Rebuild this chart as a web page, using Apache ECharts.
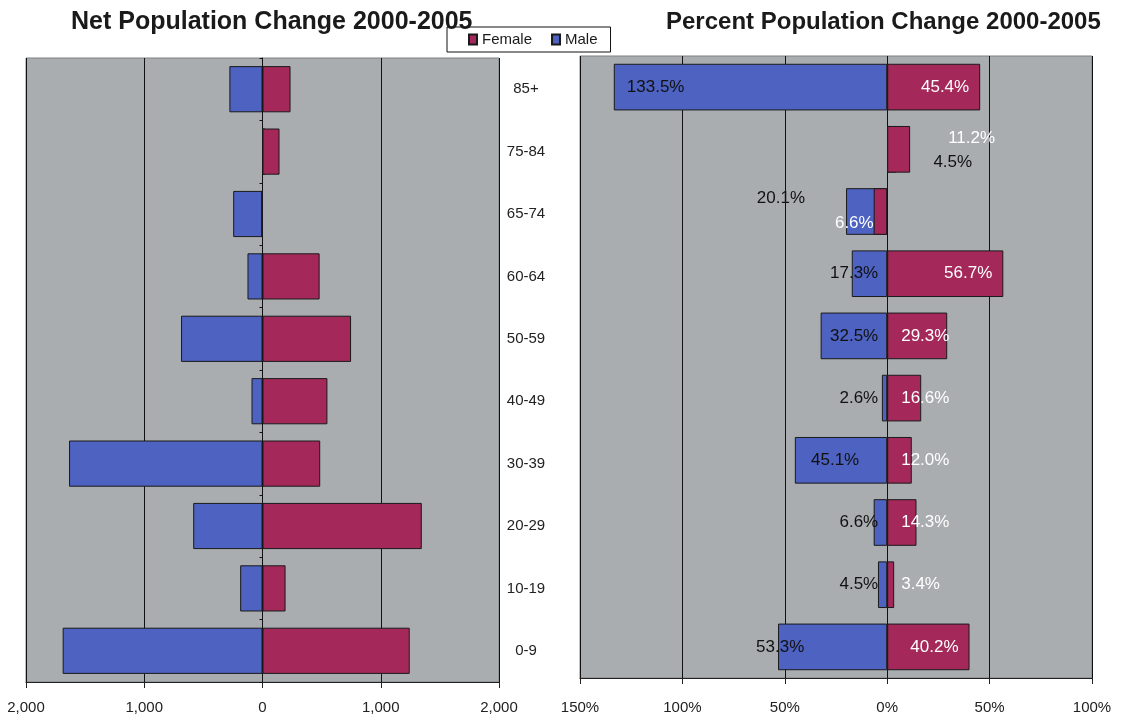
<!DOCTYPE html>
<html>
<head>
<meta charset="utf-8">
<script src="https://cdn.jsdelivr.net/npm/echarts@6/dist/echarts.min.js"></script>
<style>
html,body{margin:0;padding:0;background:#fff;}
#chart{width:1124px;height:724px;}
</style>
</head>
<body>
<div id="chart"></div>
<script>
// Age groups, bottom to top
var categories = ['0-9', '10-19', '20-29', '30-39', '40-49', '50-59', '60-64', '65-74', '75-84', '85+'];
// Net population change 2000-2005 (persons)
var maleNet   = [1690, 189, 586, 1636, 93, 689, 127, 248, -25, 280];
var femaleNet = [1245, 195, 1347, 488, 549, 749, 483, -10, 144, 237];
// Percent population change 2000-2005
var malePct   = [53.3, 4.5, 6.6, 45.1, 2.6, 32.5, 17.3, 20.1, -4.5, 133.5];
var femalePct = [40.2, 3.4, 14.3, 12.0, 16.6, 29.3, 56.7, -6.6, 11.2, 45.4];
// Axis ticks
var netTicks = { min: -2000, max: 2000, interval: 1000 };
var pctTicks = { min: -150, max: 100, interval: 50 };

var FONT = 'Liberation Sans, Arial, sans-serif';
var RED = '#a4295a';
var BLUE = '#4d62c1';
var PLOT_BG = '#a9adb0';

function fmtNum(v) {
  return Math.abs(v).toString().replace(/\B(?=(\d{3})+(?!\d))/g, ',');
}

// label placement tweaks (style only)
var maleLabelStyle = {
  '85+':   { position: 'insideLeft', distance: 13 },
  '75-84': { position: 'right', distance: 37, offset: [0, 13] },
  '65-74': { position: 'left', distance: 41, offset: [0, -13] },
  '30-39': { position: 'insideRight', distance: 28 },
  '0-9':   { position: 'insideLeft', distance: 0, offset: [-22, 0] }
};
var femaleLabelStyle = {
  '85+':   { position: 'insideRight', distance: 11 },
  '75-84': { position: 'right', distance: 38, offset: [0, -11] },
  '65-74': { position: 'left', distance: 0, offset: [0, 12] },
  '60-64': { position: 'insideRight', distance: 11 },
  '0-9':   { position: 'insideRight', distance: 11 }
};

function pctData(vals, sign, styles) {
  return vals.map(function (v, i) {
    var item = { value: sign * v, raw: v };
    var s = styles[categories[i]];
    if (s) item.label = s;
    return item;
  });
}

var barItem = function (c) { return { color: c, borderColor: '#1a1a1a', borderWidth: 1 }; };

var chart = echarts.init(document.getElementById('chart'), null, { renderer: 'canvas' });

var option = {
  animation: false,
  backgroundColor: '#ffffff',
  textStyle: { fontFamily: FONT },
  title: [
    { text: 'Net Population Change 2000-2005', left: 66, top: 5,
      textStyle: { fontFamily: FONT, fontSize: 25, fontWeight: 'bold', color: '#1a1a1a' } },
    { text: 'Percent Population Change 2000-2005', left: 661, top: 5,
      textStyle: { fontFamily: FONT, fontSize: 24, fontWeight: 'bold', color: '#1a1a1a' } }
  ],
  legend: {
    data: ['Female', 'Male'],
    left: 447, top: 27,
    padding: [5, 13, 5, 21],
    icon: 'rect',
    itemWidth: 8, itemHeight: 10, itemGap: 19,
    backgroundColor: '#ffffff',
    borderColor: '#111', borderWidth: 1,
    textStyle: { fontFamily: FONT, fontSize: 15, color: '#1a1a1a' }
  },
  grid: [
    { left: 26, top: 58, width: 473, height: 624, show: true,
      backgroundColor: PLOT_BG, borderColor: '#7d8184', borderWidth: 1 },
    { left: 580, top: 56, width: 512, height: 622, show: true,
      backgroundColor: PLOT_BG, borderColor: '#7d8184', borderWidth: 1 }
  ],
  xAxis: [
    { type: 'value', gridIndex: 0, min: netTicks.min, max: netTicks.max, interval: netTicks.interval,
      axisLine: { show: true, onZero: false, lineStyle: { color: '#222', width: 1 } },
      axisTick: { show: true, length: 6, lineStyle: { color: '#222' } },
      splitLine: { show: true, lineStyle: { color: '#111', width: 1 } },
      axisLabel: { formatter: fmtNum, fontSize: 15, color: '#222', margin: 18, fontFamily: FONT } },
    { type: 'value', gridIndex: 1, min: pctTicks.min, max: pctTicks.max, interval: pctTicks.interval,
      axisLine: { show: true, onZero: false, lineStyle: { color: '#222', width: 1 } },
      axisTick: { show: true, length: 6, lineStyle: { color: '#222' } },
      splitLine: { show: true, lineStyle: { color: '#111', width: 1 } },
      axisLabel: { formatter: function (v) { return Math.abs(v) + '%'; }, fontSize: 15, color: '#222', margin: 22, fontFamily: FONT } }
  ],
  yAxis: [
    { type: 'category', gridIndex: 0, data: categories, position: 'left',
      axisLine: { show: true, onZero: true, lineStyle: { color: '#111' } },
      axisTick: { show: true, length: 3, lineStyle: { color: '#111' } },
      axisLabel: { show: false } },
    { type: 'category', gridIndex: 0, data: categories, position: 'right',
      axisLine: { show: false, onZero: false }, axisTick: { show: false },
      axisLabel: { show: true, align: 'center', margin: 27, fontSize: 15, color: '#222', fontFamily: FONT } },
    { type: 'category', gridIndex: 1, data: categories,
      axisLine: { show: false }, axisTick: { show: false }, axisLabel: { show: false } }
  ],
  series: [
    { name: 'Male', type: 'bar', xAxisIndex: 0, yAxisIndex: 0,
      data: maleNet.map(function (v) { return -v; }),
      barCategoryGap: '26%', itemStyle: barItem(BLUE) },
    { name: 'Female', type: 'bar', xAxisIndex: 0, yAxisIndex: 0,
      data: femaleNet, barGap: '-100%', barCategoryGap: '26%', itemStyle: barItem(RED) },
    { name: 'Male', type: 'bar', xAxisIndex: 1, yAxisIndex: 2,
      data: pctData(malePct, -1, maleLabelStyle),
      barCategoryGap: '25%', itemStyle: barItem(BLUE),
      label: { show: true, position: 'insideRight', distance: 9, color: '#111', fontSize: 17, fontFamily: FONT,
        formatter: function (p) { return Math.abs(p.data.raw).toFixed(1) + '%'; } } },
    { name: 'Female', type: 'bar', xAxisIndex: 1, yAxisIndex: 2,
      data: pctData(femalePct, 1, femaleLabelStyle),
      barGap: '-100%', barCategoryGap: '25%', itemStyle: barItem(RED),
      label: { show: true, position: 'insideLeft', distance: 14, color: '#ffffff', fontSize: 17, fontFamily: FONT,
        formatter: function (p) { return Math.abs(p.data.raw).toFixed(1) + '%'; } } }
  ]
};
chart.setOption(option);
</script>
</body>
</html>
